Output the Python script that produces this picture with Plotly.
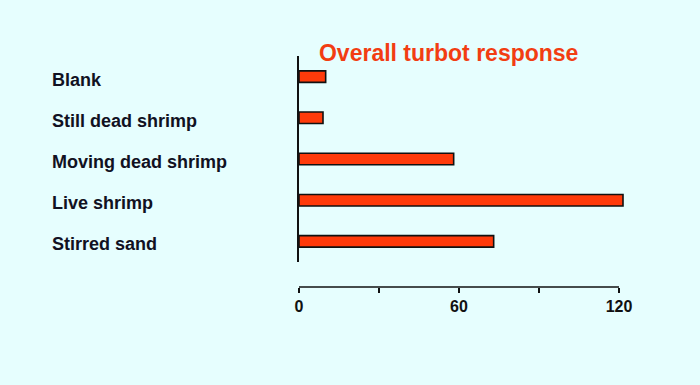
import plotly.graph_objects as go

categories = ["Blank", "Still dead shrimp", "Moving dead shrimp", "Live shrimp", "Stirred sand"]
values = [10, 9, 58, 121.5, 73]
tick_vals = [0, 30, 60, 90, 120]
tick_text = ["0", "", "60", "", "120"]
title_text = "Overall turbot response"

BG = "#E6FEFE"
RED = "#FF3A0A"
FONT = "Liberation Sans"

fig = go.Figure()
fig.add_trace(go.Bar(
    y=categories, x=values, orientation="h",
    marker=dict(color=RED, line=dict(color="#111111", width=1.6)),
    width=0.28, showlegend=False, hoverinfo="skip",
))

# category labels, left aligned
for c in categories:
    fig.add_annotation(
        x=-0.76, xref="paper", y=c, yref="y", text=c, showarrow=False,
        xanchor="left", yanchor="middle", yshift=-3,
        font=dict(family=FONT, size=18, color="#111122", weight="bold"),
    )

# x axis baseline spanning the tick range
fig.add_shape(type="line", xref="x", yref="paper",
              x0=tick_vals[0], x1=tick_vals[-1], y0=0, y1=0,
              line=dict(color="#111111", width=1.5))

fig.update_layout(
    width=700, height=385,
    paper_bgcolor=BG, plot_bgcolor=BG,
    margin=dict(l=299, r=73, t=56, b=98),
    title=dict(text=title_text, xref="container", yref="container",
               x=0.641, y=1 - 52.5 / 385, xanchor="center", yanchor="middle",
               font=dict(family=FONT, size=23, color="#F23D12", weight="bold")),
    xaxis=dict(range=[0, 123], anchor="free", position=0,
               tickmode="array", tickvals=tick_vals, ticktext=tick_text,
               ticks="outside", ticklen=5, tickwidth=1.5, tickcolor="#111111",
               showline=False, showgrid=False, zeroline=False,
               tickfont=dict(family=FONT, size=16, color="#111111", weight="bold")),
    yaxis=dict(domain=[25 / 231, 1], categoryorder="array",
               categoryarray=categories, autorange="reversed",
               showticklabels=False, ticks="", showgrid=False, zeroline=False,
               showline=True, linecolor="#111111", linewidth=1.5),
)

fig.write_html("out.html")
